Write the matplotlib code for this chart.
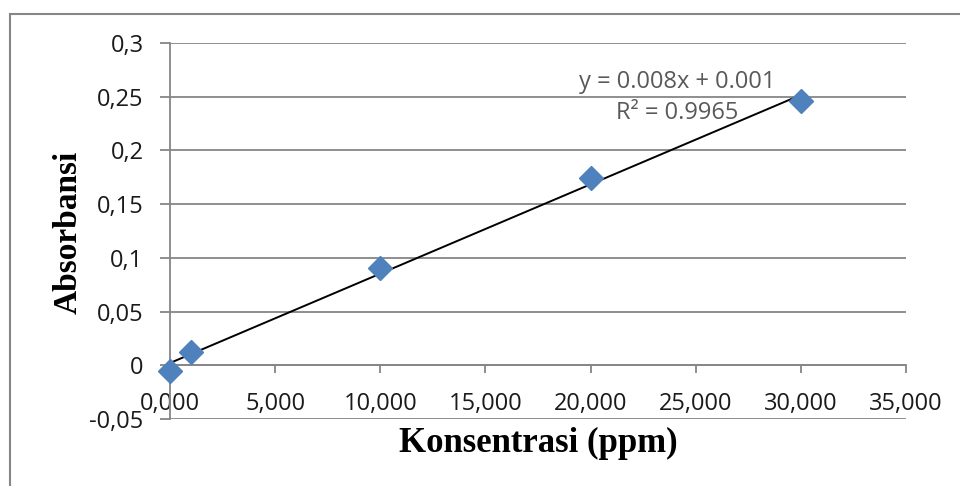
import numpy as np
import matplotlib
matplotlib.use("Agg")
import matplotlib.pyplot as plt
from matplotlib.patches import Rectangle

# Data
konsentrasi = [0, 1, 10, 20, 30]
absorbansi = [-0.005, 0.012, 0.091, 0.174, 0.246]
x_ticks = [0, 5, 10, 15, 20, 25, 30, 35]
x_tick_labels = ["0,000", "5,000", "10,000", "15,000", "20,000", "25,000", "30,000", "35,000"]
y_ticks = [-0.05, 0, 0.05, 0.1, 0.15, 0.2, 0.25, 0.3]
y_tick_labels = ["-0,05", "0", "0,05", "0,1", "0,15", "0,2", "0,25", "0,3"]
eq_text = "y = 0.008x + 0.001"
r2_text = "R² = 0.9965"

W, H = 960, 486
fig = plt.figure(figsize=(W / 100, H / 100), dpi=100)
ax = fig.add_axes([170 / W, 1 - 419 / H, (906 - 170) / W, (419 - 43) / H])

grid_c = "#868686"
tick_font = "Open Sans"

# trendline (least squares)
slope, intercept = np.polyfit(konsentrasi, absorbansi, 1)
xl = np.array([min(konsentrasi), max(konsentrasi)])
ax.plot(xl, slope * xl + intercept, color="black", lw=1.4, zorder=3)

ax.plot(konsentrasi, absorbansi, linestyle="none", marker="D", markersize=12,
        color="#4F81BD", markeredgecolor="#4F81BD", zorder=4, clip_on=False)

ax.set_xlim(0, 35)
ax.set_ylim(-0.05, 0.3)
ax.set_yticks(y_ticks)
ax.set_yticklabels(y_tick_labels)
ax.set_xticks(x_ticks)
ax.set_xticklabels(x_tick_labels)

for y in y_ticks:
    ax.axhline(y, color=grid_c, lw=1.3, zorder=1)

for s in ["top", "right"]:
    ax.spines[s].set_visible(False)
ax.spines["left"].set_color(grid_c)
ax.spines["left"].set_linewidth(1.3)
ax.spines["bottom"].set_position(("data", 0))
ax.spines["bottom"].set_color(grid_c)
ax.spines["bottom"].set_linewidth(1.3)

ax.tick_params(axis="y", direction="out", length=7, width=1.3, color=grid_c,
               pad=12, labelsize=17, labelcolor="#1a1a1a")
ax.tick_params(axis="x", direction="out", length=6, width=1.3, color=grid_c,
               pad=13, labelsize=17, labelcolor="#1a1a1a")
for lab in ax.get_xticklabels() + ax.get_yticklabels():
    lab.set_fontfamily(tick_font)

ax.text(0.689, 0.896, eq_text, transform=ax.transAxes, ha="center", va="center",
        fontsize=17, color="#595959", family=tick_font)
ax.text(0.689, 0.814, r2_text, transform=ax.transAxes, ha="center", va="center",
        fontsize=17, color="#595959", family=tick_font)

fig.text(538 / W, 1 - 443 / H, "Konsentrasi (ppm)", ha="center", va="center",
         fontsize=25, fontweight="bold", family="Liberation Serif")
fig.text(68 / W, 1 - 232 / H, "Absorbansi", ha="center", va="center", rotation=90,
         fontsize=24, fontweight="bold", family="Liberation Serif")

# outer chart border
fig.add_artist(Rectangle((10 / W, -0.2), 1.2, 1.2 - 14 / H, transform=fig.transFigure,
                         fill=False, edgecolor=grid_c, lw=1.5))

fig.savefig("out.png", dpi=100)
